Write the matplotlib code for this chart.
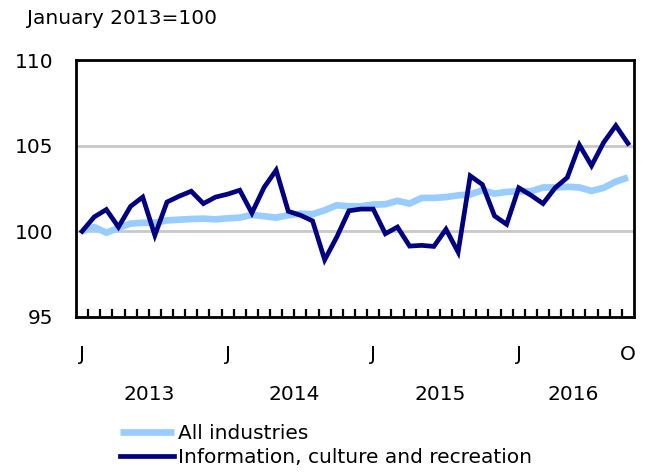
import matplotlib
matplotlib.use("Agg")
import matplotlib.pyplot as plt
import matplotlib.transforms as mtransforms
import numpy as np

# Monthly index, January 2013 to October 2016 (January 2013=100)
all_industries = [
    100.0, 100.25, 99.92, 100.2, 100.45, 100.5, 100.5, 100.64, 100.68, 100.72, 100.74, 100.7,
    100.76, 100.8, 100.96, 100.88, 100.8, 100.94, 101.03, 101.0, 101.23, 101.52, 101.46, 101.46,
    101.56, 101.58, 101.78, 101.62, 101.95, 101.95, 102.0, 102.1, 102.15, 102.4, 102.2, 102.3,
    102.34, 102.34, 102.56, 102.56, 102.6, 102.56, 102.36, 102.54, 102.9, 103.14,
]
info_culture = [
    100.0, 100.84, 101.27, 100.25, 101.46, 102.0, 99.77, 101.71, 102.05, 102.34, 101.62, 102.0,
    102.17, 102.4, 101.07, 102.56, 103.57, 101.17, 100.94, 100.61, 98.34, 99.67, 101.2, 101.3,
    101.3, 99.86, 100.25, 99.14, 99.18, 99.12, 100.12, 98.79, 103.24, 102.73, 100.9, 100.41,
    102.54, 102.11, 101.62, 102.54, 103.14, 105.04, 103.83, 105.19, 106.17, 105.13,
]
month_labels = {0: "J", 12: "J", 24: "J", 36: "J", 45: "O"}
years = ["2013", "2014", "2015", "2016"]
year_centres = [5.5, 17.5, 29.5, 40.5]
y_ticks = [95, 100, 105, 110]

FS = 14.5
plt.rcParams["font.family"] = "DejaVu Sans"

fig = plt.figure(figsize=(6.53, 4.72), dpi=100)
ax = fig.add_axes([76 / 653, 1 - 317 / 472, 558 / 653, 257 / 472])

x = np.arange(len(all_industries))
ax.plot(x, all_industries, color="#99CCFF", lw=4.8, solid_capstyle="butt",
        label="All industries", zorder=3)
ax.plot(x, info_culture, color="#000080", lw=3.4, solid_joinstyle="miter",
        label="Information, culture and recreation", zorder=4)

ax.set_xlim(-0.5, len(x) - 0.5)
ax.set_ylim(95, 110)
ax.set_yticks(y_ticks)
ax.set_yticklabels([str(v) for v in y_ticks], fontsize=FS)
ax.yaxis.grid(True, color="#C8C8C8", lw=2)
ax.set_axisbelow(True)
ax.tick_params(axis="y", length=0, pad=16.5)

# month boundaries as small inward ticks, letters under selected months
ax.set_xticks(list(month_labels.keys()))
ax.set_xticklabels(list(month_labels.values()), fontsize=FS)
ax.tick_params(axis="x", which="major", length=0, pad=20)
ax.set_xticks(np.arange(0.5, len(x) - 1, 1.0), minor=True)
ax.tick_params(axis="x", which="minor", direction="in", length=6, width=1.6)

for s in ax.spines.values():
    s.set_linewidth(2)
    s.set_color("black")

trans = mtransforms.blended_transform_factory(ax.transData, fig.transFigure)
for yr, xc in zip(years, year_centres):
    ax.text(xc, 1 - 394 / 472, yr, transform=trans, ha="center", va="center", fontsize=FS)

fig.text(27 / 653, 1 - 18 / 472, "January 2013=100", ha="left", va="center", fontsize=FS)

ax.legend(loc="upper left", bbox_to_anchor=(120 / 653, 1 - 424 / 472),
          bbox_transform=fig.transFigure, frameon=False, fontsize=FS,
          handlelength=2.7, handletextpad=0.2, labelspacing=0.26,
          borderaxespad=0, borderpad=0)

fig.savefig("out.png", dpi=100)
